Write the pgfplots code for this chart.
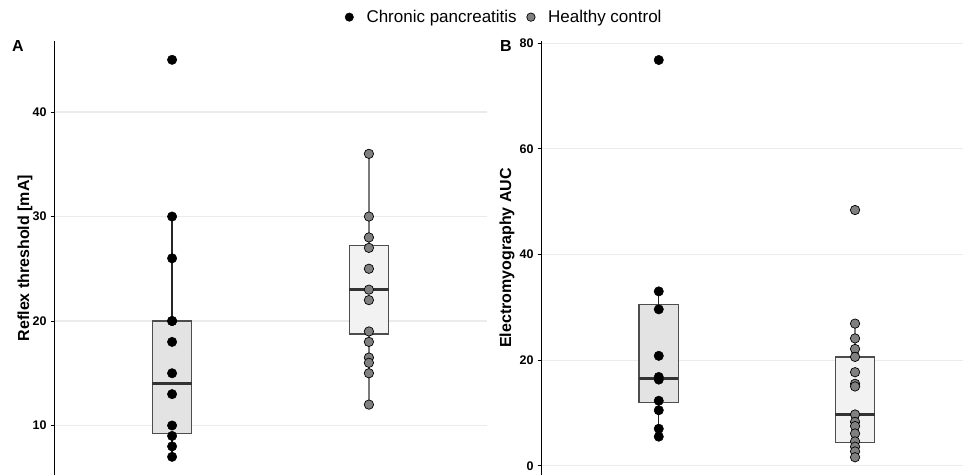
\documentclass[border=0pt]{standalone}
\usepackage{fontspec}
\setmainfont{Liberation Sans}
\usepackage{pgfplots}
\pgfplotsset{compat=1.18}
\definecolor{gridc}{HTML}{EBEBEB}
\definecolor{boxedge}{HTML}{4D4D4D}
\definecolor{medc}{HTML}{333333}
\definecolor{fillcp}{HTML}{E3E3E3}
\definecolor{fillhc}{HTML}{F2F2F2}
\definecolor{ptgray}{HTML}{808080}
\definecolor{whcp}{HTML}{262626}
\definecolor{whhc}{HTML}{7A7A7A}
\pgfplotsset{
  panel/.style={
    scale only axis, anchor=south west,
    xmin=0.4, xmax=2.6,
    axis x line=none,
    axis y line*=left,
    axis line style={black, line width=0.9pt, -},
    ymajorgrids, major grid style={gridc, line width=1.1pt},
    tick style={black, line width=0.9pt},
    major tick length=3.5pt, tick align=outside,
    /pgf/number format/assume math mode=true,
    yticklabel style={font=\bfseries\fontsize{12.5}{14}\selectfont, xshift=-0.5pt},
    ylabel style={font=\bfseries\fontsize{16}{18}\selectfont, anchor=center, rotate=0},
    clip=false,
  },
  boxst/.style={forget plot, draw=boxedge, line width=1.3pt, mark=none, fill=#1},
  medst/.style={forget plot, draw=medc, line width=2.4pt, mark=none},
  whst/.style={forget plot, draw=#1, line width=1.3pt, mark=none},
  cppts/.style={only marks, mark=*, mark size=4.7pt, mark options={fill=black, draw=black, line width=0.5pt}},
  hcpts/.style={only marks, mark=*, mark size=4.7pt, mark options={fill=ptgray, draw=black, line width=0.7pt}},
}
\begin{document}
\begin{tikzpicture}
\path[use as bounding box] (0pt,0pt) rectangle (963pt,475pt);
% Panel A
\begin{axis}[panel, at={(54pt,0pt)}, width=433pt, height=434pt,
  ymin=5.26, ymax=46.8, ytick={10,20,30,40},
  ylabel={Reflex threshold [mA]},
  ylabel style={at={(axis description cs:-0.067,0.5)}, rotate=0},
  legend columns=2,
  legend style={at={(axis description cs:1.04,1.055)}, anchor=center, draw=none, fill=none,
    font=\fontsize{17}{19}\selectfont,
    /tikz/every odd column/.append style={column sep=11pt},
    /tikz/every even column/.append style={column sep=8pt}},
  legend cell align=left,
  legend image post style={mark size=4.2pt},
]
% chronic pancreatitis box
\addplot[whst=whcp] coordinates {(1,20) (1,30)};
\addplot[whst=whcp] coordinates {(1,9.25) (1,7)};
\addplot[boxst=fillcp] coordinates {(0.9,9.25) (1.1,9.25) (1.1,20) (0.9,20)} -- cycle;
\addplot[medst] coordinates {(0.9,14) (1.1,14)};
% healthy control box
\addplot[whst=whhc] coordinates {(2,27.25) (2,36)};
\addplot[whst=whhc] coordinates {(2,18.75) (2,12)};
\addplot[boxst=fillhc] coordinates {(1.9,18.75) (2.1,18.75) (2.1,27.25) (1.9,27.25)} -- cycle;
\addplot[medst] coordinates {(1.9,23) (2.1,23)};
\addplot[cppts] coordinates {(1,45) (1,30) (1,26) (1,20) (1,20) (1,18) (1,15) (1,13) (1,10) (1,9) (1,8) (1,7)};
\addlegendentry{Chronic pancreatitis}
\addplot[hcpts] coordinates {(2,36) (2,30) (2,28) (2,27) (2,25) (2,23) (2,22) (2,19) (2,18) (2,16.5) (2,16) (2,15) (2,12)};
\addlegendentry{Healthy control}
\end{axis}
% Panel B
\begin{axis}[panel, at={(541pt,0pt)}, width=422pt, height=434pt,
  xmax=2.55,
  ymin=-1.76, ymax=80.4, ytick={0,20,40,60,80},
  ylabel={Electromyography AUC},
  ylabel style={at={(axis description cs:-0.0806,0.5)}, rotate=0},
]
\addplot[whst=whcp] coordinates {(1,30.5) (1,33)};
\addplot[whst=whcp] coordinates {(1,11.9) (1,5.5)};
\addplot[boxst=fillcp] coordinates {(0.9,11.9) (1.1,11.9) (1.1,30.5) (0.9,30.5)} -- cycle;
\addplot[medst] coordinates {(0.9,16.5) (1.1,16.5)};
\addplot[whst=whhc] coordinates {(2,20.6) (2,26.9)};
\addplot[whst=whhc] coordinates {(2,4.4) (2,1.6)};
\addplot[boxst=fillhc] coordinates {(1.9,4.4) (2.1,4.4) (2.1,20.6) (1.9,20.6)} -- cycle;
\addplot[medst] coordinates {(1.9,9.7) (2.1,9.7)};
\addplot[cppts] coordinates {(1,76.8) (1,33) (1,29.6) (1,20.8) (1,16.8) (1,16.3) (1,12.3) (1,10.5) (1,7) (1,5.5)};
\addplot[hcpts] coordinates {(2,48.4) (2,26.9) (2,24.1) (2,22.1) (2,20.6) (2,17.7) (2,15.5) (2,15.0) (2,9.7) (2,8.3) (2,7.5) (2,6.1) (2,4.6) (2,3.6) (2,2.7) (2,1.6)};
\end{axis}
\node[font=\bfseries\fontsize{16}{18}\selectfont] at (18pt,429pt) {A};
\node[font=\bfseries\fontsize{16}{18}\selectfont] at (506pt,429pt) {B};
\end{tikzpicture}
\end{document}
